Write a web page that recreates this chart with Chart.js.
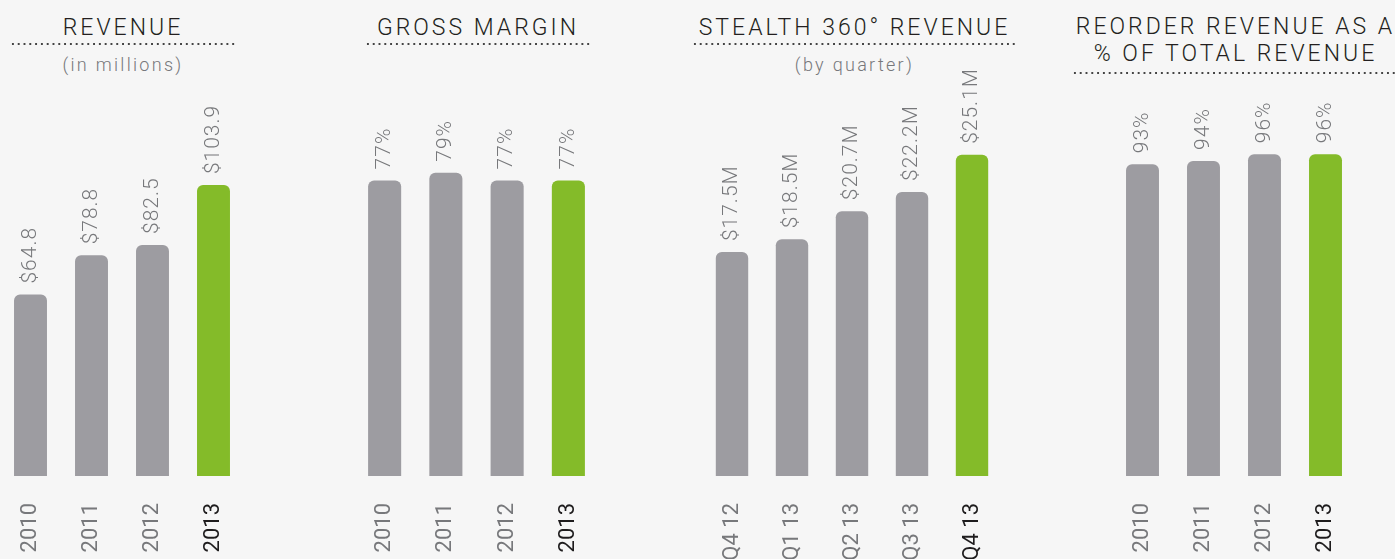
<!DOCTYPE html>
<html>
<head>
<meta charset="utf-8">
<script src="https://cdn.jsdelivr.net/npm/chart.js@4.4.1/dist/chart.umd.min.js"></script>
<style>
  body { margin: 0; background: #f6f6f6; width: 1395px; height: 559px; overflow: hidden; position: relative; font-family: Roboto, sans-serif; }
  .title { position: absolute; font-size: 23px; font-weight: 300; letter-spacing: 3px; line-height: 27px; color: #231f20; text-align: center; white-space: nowrap; }
  .dots { position: absolute; height: 2px; background-image: radial-gradient(circle, #444 0.9px, transparent 1.2px); background-size: 5.8px 2px; }
  .sub { position: absolute; font-size: 18px; font-weight: 300; letter-spacing: 2.3px; line-height: 20px; color: #77787b; text-align: center; white-space: nowrap; }
  canvas { position: absolute; top: 0; }
</style>
</head>
<body>
  <div class="title" style="left:10px; top:14px; width:226px;">REVENUE</div>
  <div class="dots" style="left:10px; top:43px; width:227px;"></div>
  <div class="sub" style="left:10px; top:55px; width:226px;">(in millions)</div>

  <div class="title" style="left:365px; top:14px; width:226px;">GROSS MARGIN</div>
  <div class="dots" style="left:365px; top:43px; width:227px;"></div>

  <div class="title" style="left:692px; top:14px; width:325px;">STEALTH 360° REVENUE</div>
  <div class="dots" style="left:692px; top:43px; width:326px;"></div>
  <div class="sub" style="left:692px; top:55px; width:325px;">(by quarter)</div>

  <div class="title" style="left:1073px; top:13px; width:325px;">REORDER REVENUE AS A<br>% OF TOTAL REVENUE</div>
  <div class="dots" style="left:1072px; top:72px; width:330px;"></div>

  <canvas id="revenueChart" width="244" height="559" style="left:0px;"></canvas>
  <canvas id="marginChart" width="245" height="559" style="left:354px;"></canvas>
  <canvas id="stealthChart" width="300" height="559" style="left:702px;"></canvas>
  <canvas id="reorderChart" width="244" height="559" style="left:1112px;"></canvas>

<script>
const revenueYears = ['2010', '2011', '2012', '2013'];
const revenueValues = [64.8, 78.8, 82.5, 103.9];
const revenueLabels = ['$64.8', '$78.8', '$82.5', '$103.9'];

const marginYears = ['2010', '2011', '2012', '2013'];
const marginValues = [77, 79, 77, 77];
const marginLabels = ['77%', '79%', '77%', '77%'];

const stealthQuarters = ['Q4 12', 'Q1 13', 'Q2 13', 'Q3 13', 'Q4 13'];
const stealthValues = [17.5, 18.5, 20.7, 22.2, 25.1];
const stealthLabels = ['$17.5M', '$18.5M', '$20.7M', '$22.2M', '$25.1M'];

const reorderYears = ['2010', '2011', '2012', '2013'];
const reorderValues = [93, 94, 96, 96];
const reorderLabels = ['93%', '94%', '96%', '96%'];

const GRAY = '#9d9ca1';
const GREEN = '#84bb29';
const DARK = '#1e1c1d';
const TEXT_GRAY = '#77787b';
const FONT = 'Roboto';

function makeChart(canvasId, cats, values, texts, yMax) {
	const last = cats.length - 1;
	// rotated value labels sitting just above each bar
	const barLabels = {
		id: 'barLabels',
		afterDatasetsDraw(chart) {
			const ctx = chart.ctx;
			chart.getDatasetMeta(0).data.forEach((bar, i) => {
				ctx.save();
				ctx.translate(bar.x, bar.y - 11);
				ctx.rotate(-Math.PI / 2);
				ctx.font = '300 21px ' + FONT;
				ctx.letterSpacing = '1px';
				ctx.fillStyle = TEXT_GRAY;
				ctx.textAlign = 'left';
				ctx.textBaseline = 'middle';
				ctx.fillText(texts[i], 0, 0);
				ctx.restore();
			});
		}
	};

	return new Chart(document.getElementById(canvasId), {
		type: 'bar',
		data: {
			labels: cats,
			datasets: [{
				data: values,
				backgroundColor: cats.map((c, i) => i === last ? GREEN : GRAY),
				borderRadius: 6,
				barPercentage: 0.54,
				categoryPercentage: 1
			}]
		},
		options: {
			responsive: false,
			animation: false,
			layout: { padding: 0 },
			plugins: {
				legend: { display: false },
				tooltip: { enabled: false }
			},
			scales: {
				x: {
					// hidden grid, tick length only used as the gap under the bars
					grid: { display: false, drawTicks: true, tickLength: 27 },
					border: { display: false },
					ticks: {
						autoSkip: false,
						minRotation: 90,
						maxRotation: 90,
						padding: 0,
						font: { family: FONT, size: 22, weight: '400' },
						color: c => c.index === last ? DARK : TEXT_GRAY
					},
					afterFit: scale => { scale.height = 83; }
				},
				y: { display: false, min: 0, max: yMax }
			}
		},
		plugins: [barLabels]
	});
}

makeChart('revenueChart', revenueYears, revenueValues, revenueLabels, 170);
makeChart('marginChart', marginYears, marginValues, marginLabels, 124);
makeChart('stealthChart', stealthQuarters, stealthValues, stealthLabels, 37.2);
makeChart('reorderChart', reorderYears, reorderValues, reorderLabels, 142);
</script>
</body>
</html>
